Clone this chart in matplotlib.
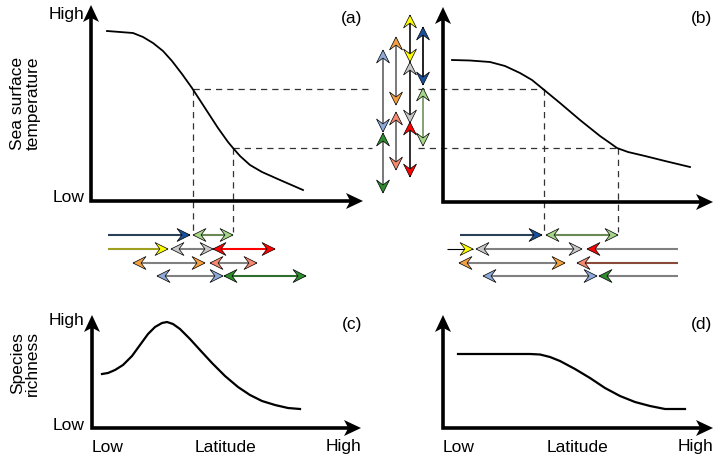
import matplotlib
matplotlib.use("Agg")
import matplotlib.pyplot as plt
from matplotlib.patches import Polygon

plt.rcParams['font.family'] = ['Liberation Sans', 'DejaVu Sans']

# Canvas is in picture units: x to the right, y downwards.
W, H = 720, 463

# SST vs latitude curves, panels (a) and (b)
sst_a_x = [107, 120, 133, 143, 153, 163, 172, 182, 192, 205, 218, 228, 233, 240, 250, 262, 280, 303]
sst_a_y = [31, 32, 33, 37, 43, 51, 61, 74, 88, 108, 128, 142, 148, 156, 165, 172, 180, 190]
sst_b_x = [452, 470, 490, 505, 520, 532, 543, 560, 580, 600, 610, 617, 628, 645, 665, 690]
sst_b_y = [60, 60.5, 62, 66, 73, 80, 89, 103, 120, 136, 143, 148, 152, 156, 161, 167]

# species richness vs latitude, panels (c) and (d)
rich_c_x = [102, 108, 115, 123, 132, 140, 148, 155, 162, 167, 173, 180, 190, 200,
            212, 225, 238, 250, 262, 275, 288, 300]
rich_c_y = [374, 373, 370, 365, 356, 345, 334, 327, 323, 322, 324, 329, 339, 350,
            363, 376, 387, 395, 401, 405, 408, 409]
rich_d_x = [458, 530, 540, 550, 560, 575, 590, 605, 620, 635, 650, 665, 685]
rich_d_y = [354, 354, 354.5, 357, 361, 369, 378, 388, 396, 402, 406, 409, 409]

# dashed reference levels (temperature) and where they hit the curves
ref_temp = [89, 148]
ref_lat_a = [193, 233]
ref_lat_b = [544, 618]
gap = (372, 418)
row_top = 232

# thermal ranges of species (vertical arrows between panels)
vert_x = [383, 383, 396, 396, 410, 410, 410, 423, 423]
vert_y0 = [50, 133, 37, 112, 15, 62, 122, 27, 88]
vert_y1 = [132, 193, 105, 170, 62, 123, 177, 85, 146]
vert_head = ['#8eaad8', '#2e8b2e', '#f5a040', '#f58a72', '#ffff00',
             '#c8c8c8', '#ff0000', '#1a4f9a', '#a6d689']
vert_line = ['#6e6e6e', '#6e6e6e', '#6e6e6e', '#6e6e6e', '#202020',
             '#202020', '#202020', '#101010', '#7a9a6a']

# latitudinal ranges of species, panel (a)
row_y = [235, 249, 263, 276]
a_row = [0, 0, 1, 1, 1, 2, 2, 3, 3]
a_x0 = [108, 193, 108, 171, 213, 133, 210, 157, 224]
a_x1 = [190, 233, 168, 213, 275, 205, 257, 223, 306]
a_heads = ['r', 'lr', 'r', 'lr', 'lr', 'lr', 'lr', 'lr', 'lr']
a_head = ['#1a4f9a', '#a6d689', '#ffff00', '#c8c8c8', '#ff0000',
          '#f5a040', '#f58a72', '#8eaad8', '#2e8b2e']
a_line = ['#2a3f58', '#6a8a55', '#a0a020', '#808080', '#ff0000',
          '#808080', '#808080', '#808080', '#2e6e2e']

# latitudinal ranges of species, panel (b)
b_row = [0, 0, 1, 1, 1, 2, 2, 3, 3]
b_x0 = [460, 546, 447, 476, 587, 459, 577, 483, 599]
b_x1 = [542, 618, 473, 582, 678, 565, 678, 597, 678]
b_heads = ['r', 'lr', 'r', 'lr', 'l', 'lr', 'l', 'lr', 'l']
b_head = ['#1a4f9a', '#a6d689', '#ffff00', '#c8c8c8', '#ff0000',
          '#f5a040', '#f58a72', '#8eaad8', '#2e8b2e']
b_line = ['#2a3f58', '#6a8a55', '#000000', '#808080', '#808080',
          '#808080', '#8a4a3a', '#808080', '#808080']
b_lw = [1.5, 1.5, 0.8, 1.5, 1.5, 1.5, 1.5, 1.5, 1.5]

# panel axes: origin, top of y axis, end of x axis
ax_origin = [(91, 201), (443, 202), (92, 428), (443, 428)]
ax_ytop = [5, 7, 315, 315]
ax_xend = [363, 713, 361, 713]
panel_tags = ['(a)', '(b)', '(c)', '(d)']
tag_pos = [(352, 18), (702, 18), (352, 325), (702, 325)]


def head(ax, tip, d, color, length=13, half=6.5, notch=0.62, ec='black', lw=0.5, z=5):
    tx, ty = tip
    dx, dy = d
    px, py = -dy, dx
    pts = [(tx, ty),
           (tx - length * dx + half * px, ty - length * dy + half * py),
           (tx - notch * length * dx, ty - notch * length * dy),
           (tx - length * dx - half * px, ty - length * dy - half * py)]
    ax.add_patch(Polygon(pts, closed=True, fc=color, ec=ec, lw=lw, zorder=z))


def range_arrow(ax, p0, p1, hc, lc, heads='lr', lw=1.5):
    ax.plot([p0[0], p1[0]], [p0[1], p1[1]], color=lc, lw=lw,
            solid_capstyle='butt', zorder=4)
    dx, dy = p1[0] - p0[0], p1[1] - p0[1]
    n = (dx ** 2 + dy ** 2) ** 0.5
    dx, dy = dx / n, dy / n
    if 'r' in heads:
        head(ax, p1, (dx, dy), hc)
    if 'l' in heads:
        head(ax, p0, (-dx, -dy), hc)


fig = plt.figure(figsize=(7.2, 4.63), dpi=100)
ax = fig.add_axes([0, 0, 1, 1])
ax.set_xlim(0, W)
ax.set_ylim(H, 0)
ax.axis('off')

# axes of the four panels
for (ox, oy), yt, xe in zip(ax_origin, ax_ytop, ax_xend):
    ax.plot([ox, ox, xe - 8], [yt + 8, oy, oy], color='black', lw=2.6,
            solid_joinstyle='miter', solid_capstyle='butt', zorder=3)
    head(ax, (ox, yt), (0, -1), 'black', length=17, half=8, notch=0.75, lw=0, z=3)
    head(ax, (xe, oy), (1, 0), 'black', length=17, half=8, notch=0.75, lw=0, z=3)

for tag, (tx, ty) in zip(panel_tags, tag_pos):
    ax.text(tx, ty, tag, ha='center', va='center', fontsize=12.5)

# curves
ax.plot(sst_a_x, sst_a_y, color='black', lw=1.3, zorder=3)
ax.plot(sst_b_x, sst_b_y, color='black', lw=1.3, zorder=3)
ax.plot(rich_c_x, rich_c_y, color='black', lw=1.6, zorder=3)
ax.plot(rich_d_x, rich_d_y, color='black', lw=1.6, zorder=3)

# dashed guides
dash = dict(color='#333333', lw=0.9, ls=(0, (5, 4)), zorder=2)
for t, la, lb in zip(ref_temp, ref_lat_a, ref_lat_b):
    ax.plot([la, gap[0]], [t, t], **dash)
    ax.plot([gap[1], lb], [t, t], **dash)
    ax.plot([la, la], [t, row_top], **dash)
    ax.plot([lb, lb], [t, row_top], **dash)

# vertical (thermal) ranges
for x, y0, y1, hc, lc in zip(vert_x, vert_y0, vert_y1, vert_head, vert_line):
    range_arrow(ax, (x, y0), (x, y1), hc, lc, 'lr', lw=1.3)

# horizontal (latitudinal) ranges
for r, x0, x1, hd, hc, lc in zip(a_row, a_x0, a_x1, a_heads, a_head, a_line):
    range_arrow(ax, (x0, row_y[r]), (x1, row_y[r]), hc, lc, hd)
for r, x0, x1, hd, hc, lc, w in zip(b_row, b_x0, b_x1, b_heads, b_head, b_line, b_lw):
    range_arrow(ax, (x0, row_y[r]), (x1, row_y[r]), hc, lc, hd, lw=w)

# axis labels
fs = 12.5
ax.text(84, 15, 'High', ha='right', va='center', fontsize=fs)
ax.text(84, 197, 'Low', ha='right', va='center', fontsize=fs)
ax.text(84, 321, 'High', ha='right', va='center', fontsize=fs)
ax.text(84, 425, 'Low', ha='right', va='center', fontsize=fs)
ax.text(25, 103, 'Sea surface\ntemperature', rotation=90, ha='center',
        va='center', multialignment='center', fontsize=fs, linespacing=1.05)
ax.text(25, 363, 'Species\nrichness', rotation=90, ha='center',
        va='center', multialignment='center', fontsize=fs, linespacing=1.05)

for ox, xe, y in [(92, 361, 447), (443, 713, 447)]:
    ax.text(ox, y, 'Low', ha='left', va='center', fontsize=fs)
    ax.text((ox + xe) / 2 - 0.5, y, 'Latitude', ha='center', va='center', fontsize=fs)
    ax.text(xe, y, 'High', ha='right', va='center', fontsize=fs)

fig.savefig('out.png', dpi=100)
